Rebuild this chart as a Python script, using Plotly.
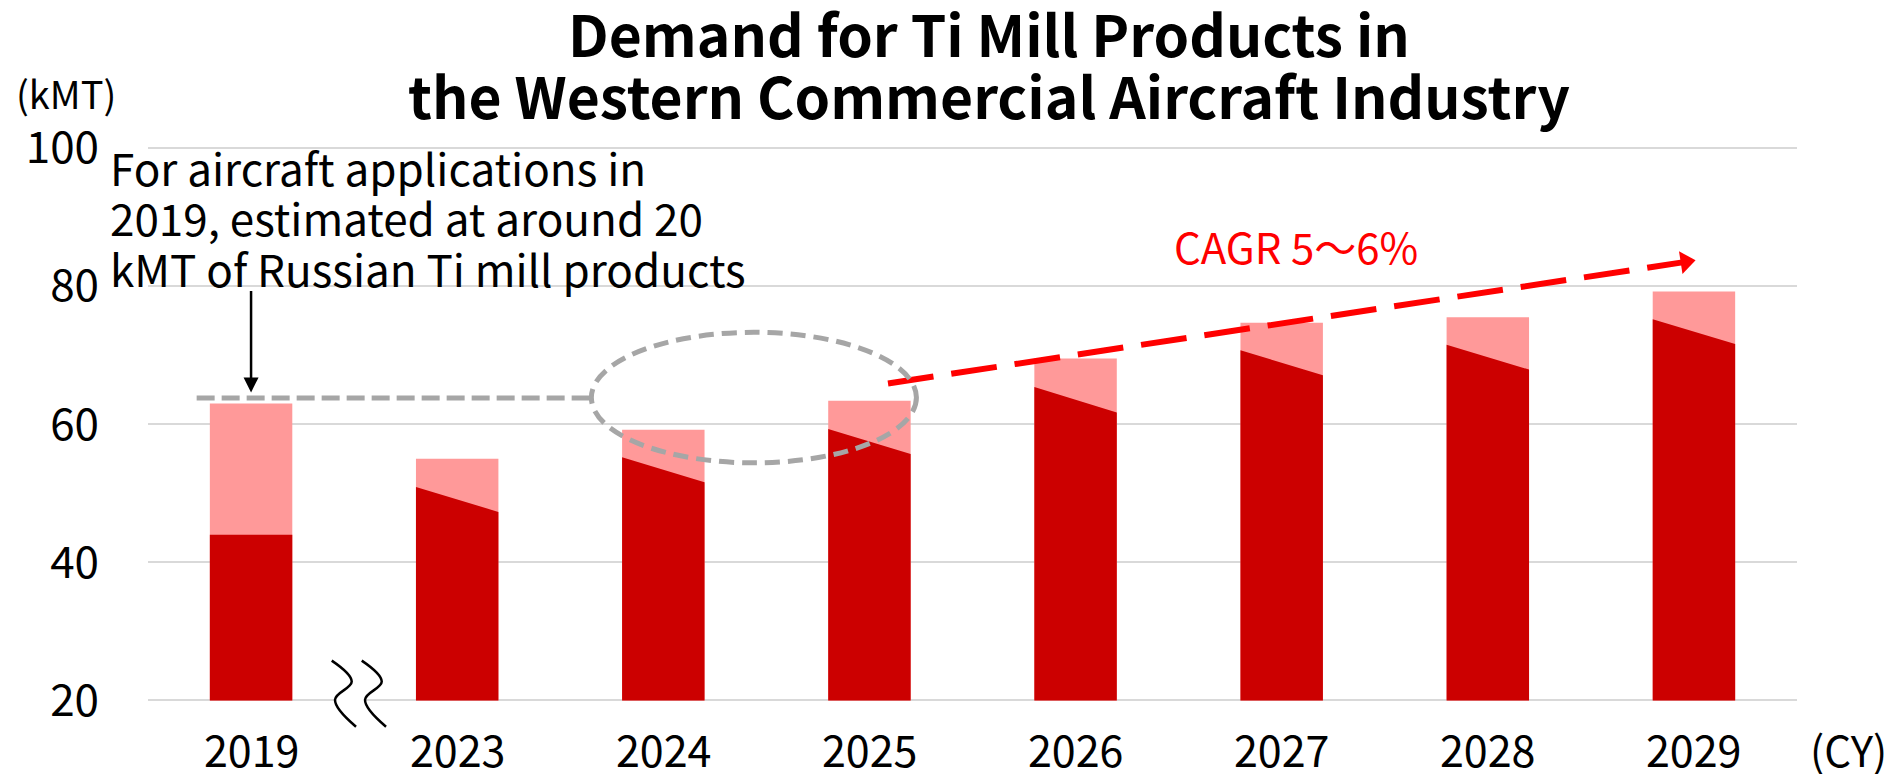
import plotly.graph_objects as go

# ---- data -------------------------------------------------------------
years = ["2019", "2023", "2024", "2025", "2026", "2027", "2028", "2029"]
total_demand = [63.0, 55.0, 59.2, 63.4, 69.5, 74.7, 75.5, 79.2]   # kMT, full bar
core_left = [44.0, 50.9, 55.2, 59.3, 65.4, 70.7, 71.5, 75.2]      # dark segment, left edge
core_right = [44.0, 47.3, 51.6, 55.7, 61.7, 67.1, 67.9, 71.6]     # dark segment, right edge
y_ticks = [20, 40, 60, 80, 100]
axis_base = 20

# ---- canvas geometry --------------------------------------------------
W, H = 1891, 774
M_L, M_R, M_T, M_B = 148, 94, 141, 39
Y_RANGE = [15, 101]
X_RANGE = [-0.5, len(years) - 0.5]
BAR_W = 0.4
FONT = "Noto Sans CJK JP"

LIGHT = "#FF9999"
DARK = "#CC0000"
GRID = "#D9D9D9"
GREY = "#A6A6A6"
RED = "#FF0000"

plot_w = W - M_L - M_R
plot_h = H - M_T - M_B


def px(x):
    """pixel x -> paper x"""
    return (x - M_L) / plot_w


def py(y):
    """pixel y -> paper y"""
    return (H - M_B - y) / plot_h


idx = list(range(len(years)))
fig = go.Figure()

# light (full demand) bars
fig.add_trace(go.Bar(
    x=idx, y=[t - axis_base for t in total_demand], base=axis_base,
    width=BAR_W, marker=dict(color=LIGHT, line=dict(width=0)),
    hoverinfo="skip", showlegend=False,
))

# dark segments with slanted tops
xs, ys = [], []
for i, l, r in zip(idx, core_left, core_right):
    x0, x1 = i - BAR_W / 2, i + BAR_W / 2
    xs += [x0, x0, x1, x1, x0, None]
    ys += [axis_base, l, r, axis_base, axis_base, None]
fig.add_trace(go.Scatter(
    x=xs, y=ys, mode="lines", fill="toself", fillcolor=DARK,
    line=dict(width=0, color=DARK), hoverinfo="skip", showlegend=False,
))

# axis break mark between 2019 and 2023
fig.add_trace(go.Scatter(
    x=[0.407, 0.553], y=[axis_base, axis_base], mode="lines",
    line=dict(color="white", width=4), hoverinfo="skip", showlegend=False,
))
for dx in (0.0, 0.1456):
    fig.add_trace(go.Scatter(
        x=[0.3913 + dx, 0.4884 + dx, 0.4073 + dx, 0.5092 + dx],
        y=[25.77, 22.73, 20.1, 16.2],
        mode="lines", line=dict(color="black", width=2.5, shape="spline", smoothing=1.1),
        hoverinfo="skip", showlegend=False,
    ))

# growth trend arrow
trend_start = (3.09, 65.9)
trend_tip = (6.96, 83.5)
fig.add_shape(type="line", xref="x", yref="y",
              x0=trend_start[0], y0=trend_start[1], x1=trend_tip[0], y1=trend_tip[1],
              line=dict(color=RED, width=6, dash="46px,18px"))
fig.add_trace(go.Scatter(
    x=[trend_tip[0]], y=[trend_tip[1]], mode="markers",
    marker=dict(symbol="triangle-right", size=20, color=RED, angle=-8.7),
    hoverinfo="skip", showlegend=False, cliponaxis=False,
))

# reference level of 2019 and the ellipse around 2024-2025
fig.add_shape(type="line", xref="x", yref="y", x0=-0.264, x1=1.651, y0=63.8, y1=63.8,
              line=dict(color=GREY, width=5, dash="18px,7px"))
fig.add_shape(type="circle", xref="x", yref="y", x0=1.651, x1=3.228, y0=54.4, y1=73.3,
              line=dict(color=GREY, width=5, dash="15px,8px"))

annotations = []

# two-line bold heading
for line, yc in zip(["Demand for Ti Mill Products in",
                     "the Western Commercial Aircraft Industry"], [32, 94]):
    annotations.append(dict(
        x=px(989), y=py(yc), xref="paper", yref="paper", xanchor="center",
        yanchor="middle", text=f"<b>{line}</b>", showarrow=False,
        font=dict(family=FONT, size=57, color="black"),
    ))

# category labels under the bars
for i, label in zip(idx, years):
    annotations.append(dict(
        x=i, y=py(748), xref="x", yref="paper", xanchor="center", yanchor="middle",
        text=label, showarrow=False, font=dict(family=FONT, size=43, color="black"),
    ))

# arrow pointing at the 2019 level
annotations.append(dict(
    x=0, y=64.6, ax=0, ay=79.5, xref="x", yref="y", axref="x", ayref="y",
    text="", showarrow=True, arrowhead=2, arrowsize=1.2, arrowwidth=2.5,
    arrowcolor="black",
))

note_lines = ["For aircraft applications in",
              "2019, estimated at around 20",
              "kMT of Russian Ti mill products"]
for line, yc in zip(note_lines, [167, 217, 268]):
    annotations.append(dict(
        x=px(108), y=py(yc), xref="paper", yref="paper", xanchor="left", yanchor="middle",
        text=line, showarrow=False, font=dict(family=FONT, size=44, color="black"),
    ))

annotations.append(dict(
    x=px(1172), y=py(245), xref="paper", yref="paper", xanchor="left", yanchor="middle",
    text="CAGR 5～6%", showarrow=False, font=dict(family=FONT, size=42, color=RED),
))
annotations.append(dict(
    x=px(14), y=py(93), xref="paper", yref="paper", xanchor="left", yanchor="middle",
    text="(kMT)", showarrow=False, font=dict(family=FONT, size=38, color="black"),
))
annotations.append(dict(
    x=px(1808), y=py(748), xref="paper", yref="paper", xanchor="left", yanchor="middle",
    text="(CY)", showarrow=False, font=dict(family=FONT, size=42, color="black"),
))

fig.update_layout(
    width=W, height=H,
    margin=dict(l=M_L, r=M_R, t=M_T, b=M_B, pad=0),
    paper_bgcolor="white", plot_bgcolor="white",
    barmode="overlay", showlegend=False,
    xaxis=dict(
        range=X_RANGE, tickvals=idx, showticklabels=False, showgrid=False,
        zeroline=False, showline=False, ticks="", automargin=False,
    ),
    yaxis=dict(
        range=Y_RANGE, tickvals=y_ticks, showgrid=True, gridcolor=GRID, gridwidth=1.5,
        zeroline=False, showline=False, ticks="", ticklabelstandoff=48, automargin=False,
        tickfont=dict(family=FONT, size=44, color="black"),
    ),
    annotations=annotations,
)

fig.write_html("out.html")
